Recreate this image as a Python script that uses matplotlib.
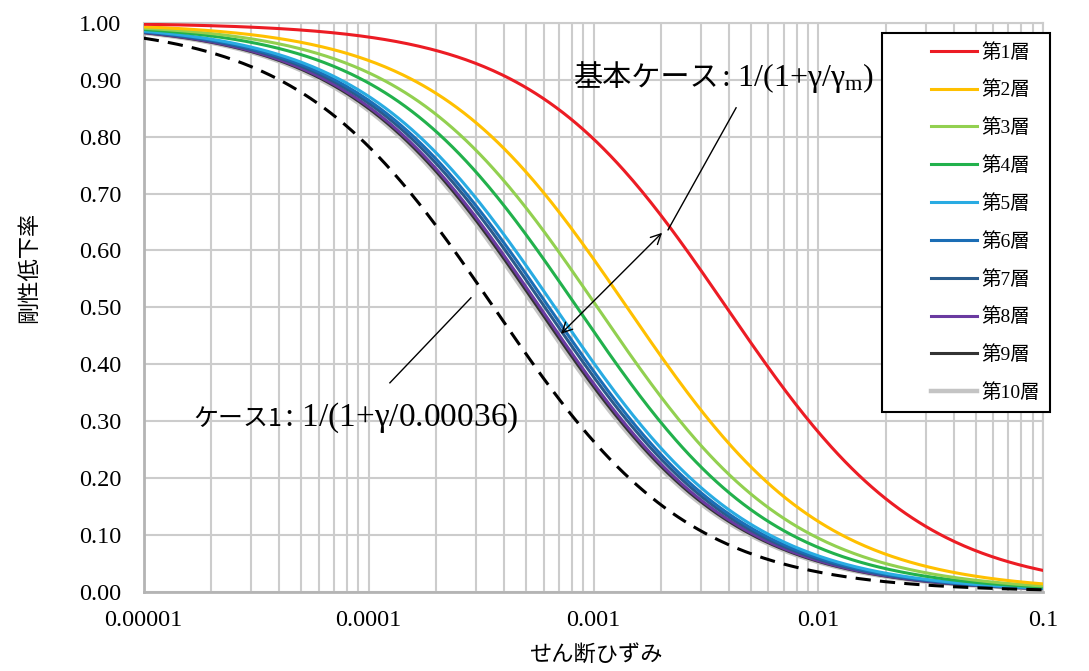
import numpy as np
import matplotlib
matplotlib.use("Agg")
import matplotlib.pyplot as plt
from matplotlib.lines import Line2D
from matplotlib.legend_handler import HandlerBase

plt.rcParams['font.family'] = ['Liberation Serif', 'Noto Sans CJK JP']
plt.rcParams['mathtext.fontset'] = 'custom'
plt.rcParams['mathtext.rm'] = 'Liberation Serif'
plt.rcParams['mathtext.it'] = 'Liberation Serif'

JP = ['Noto Sans CJK JP', 'DejaVu Sans']

# reference strain of each layer (read at the 0.5 crossing)
layers = ['第1層', '第2層', '第3層', '第4層', '第5層',
          '第6層', '第7層', '第8層', '第9層', '第10層']
gamma_m = [0.0039, 0.00141, 0.00104, 0.000845, 0.000674,
           0.000634, 0.000608, 0.000578, 0.000565, 0.00055]
colors = ['#ec1c24', '#ffc000', '#92d050', '#22b14c', '#29abe2',
          '#1b6db5', '#2a5b8c', '#6a3aa0', '#333333', '#c4c4c4']
gamma_case1 = 0.00036

xticks = [1e-5, 1e-4, 1e-3, 1e-2, 1e-1]
xticklabels = ['0.00001', '0.0001', '0.001', '0.01', '0.1']
yticks = np.arange(0, 1.01, 0.1)
yticklabels = ['%.2f' % v for v in yticks]

gamma = np.logspace(-5, -1, 400)


class RightLine(HandlerBase):
    # legend line drawn only on the right part of the handle box
    def create_artists(self, legend, orig_handle, xdescent, ydescent,
                       width, height, fontsize, trans):
        y = height / 2 - ydescent
        x0 = -xdescent + width * 0.47
        ln = Line2D([x0, -xdescent + width], [y, y],
                    color=orig_handle.get_color(),
                    lw=orig_handle.get_linewidth(), transform=trans)
        return [ln]


fig = plt.figure(figsize=(10.89, 6.71), dpi=100)
ax = fig.add_axes([0.132, 0.118, 0.826, 0.848])

handles = []
for i in range(len(layers)):
    lw = 3.2 if i == 9 else 2.2
    z = 2.9 if i == 9 else 3 + (9 - i) * 0.01
    ln, = ax.plot(gamma, 1 / (1 + gamma / gamma_m[i]), color=colors[i],
                  lw=lw, zorder=z, label=layers[i])
    handles.append(ln)

ax.plot(gamma, 1 / (1 + gamma / gamma_case1), color='black', lw=2.2,
        dashes=(5, 3), zorder=4)

ax.set_xscale('log')
ax.set_xlim(1e-5, 1e-1)
ax.set_ylim(0, 1)
ax.set_xticks(xticks)
ax.set_xticklabels(xticklabels, fontsize=17.5)
ax.set_yticks(yticks)
ax.set_yticklabels(yticklabels, fontsize=17.5)
ax.tick_params(axis='both', which='both', length=0)
ax.tick_params(axis='x', pad=13)
ax.tick_params(axis='y', pad=16)

ax.grid(True, which='major', color='#cccccc', lw=1.5, zorder=0)
ax.grid(True, which='minor', axis='x', color='#cccccc', lw=1.5, zorder=0)
ax.set_axisbelow(True)
for s in ax.spines.values():
    s.set_color('#cccccc')
    s.set_linewidth(1.5)
ax.spines['left'].set_color('#b4b4b4')
ax.spines['bottom'].set_color('#b4b4b4')
ax.spines['left'].set_linewidth(2)
ax.spines['bottom'].set_linewidth(2)

ax.set_ylabel('剛性低下率', family=JP, fontsize=16)
ax.yaxis.set_label_coords(-0.115, 0.57)
ax.set_xlabel('せん断ひずみ', family=JP, fontsize=16)
ax.xaxis.set_label_coords(0.502, -0.0896)


def fx(px):
    return (px - 144) / 899.0


def fy(py):
    return (592 - py) / 569.0


# 基本ケース annotation
ax.text(fx(719), fy(86), '基本ケース', family=JP, fontsize=21,
        ha='right', va='baseline', transform=ax.transAxes, zorder=6)
ax.text(fx(721), fy(86), r': 1/(1${+}\gamma/\gamma_\mathrm{m}$)', fontsize=23,
        ha='left', va='baseline', transform=ax.transAxes, zorder=6)
ax.plot([fx(736), fx(668)], [fy(108), fy(230)], color='black', lw=1,
        transform=ax.transAxes, zorder=6)
ax.annotate('', xy=(fx(664), fy(231)), xytext=(fx(559), fy(336)),
            xycoords='axes fraction', textcoords='axes fraction',
            arrowprops=dict(arrowstyle='<->', color='black', lw=1,
                            mutation_scale=18), zorder=6)

# ケース1 annotation
ax.text(fx(282), fy(426), 'ケース1', family=JP, fontsize=18,
        ha='right', va='baseline', transform=ax.transAxes, zorder=6)
ax.text(fx(284), fy(426), r': 1/(1${+}\gamma$/0.00036)', fontsize=24,
        ha='left', va='baseline', transform=ax.transAxes, zorder=6)
ax.plot([fx(390), fx(471)], [fy(383), fy(298)], color='black', lw=1,
        transform=ax.transAxes, zorder=6)

leg = ax.legend(handles=handles, loc='upper right',
                bbox_to_anchor=(1050 / 1089, 1 - 33 / 671),
                bbox_transform=fig.transFigure, fontsize=14,
                handler_map={Line2D: RightLine()},
                handlelength=4.4, handletextpad=0.25, labelspacing=0.98,
                borderpad=0.5, borderaxespad=0, fancybox=False, framealpha=1)
leg.get_frame().set_edgecolor('black')
leg.get_frame().set_linewidth(1.5)
leg.set_zorder(10)

fig.savefig('out.png', dpi=100)
